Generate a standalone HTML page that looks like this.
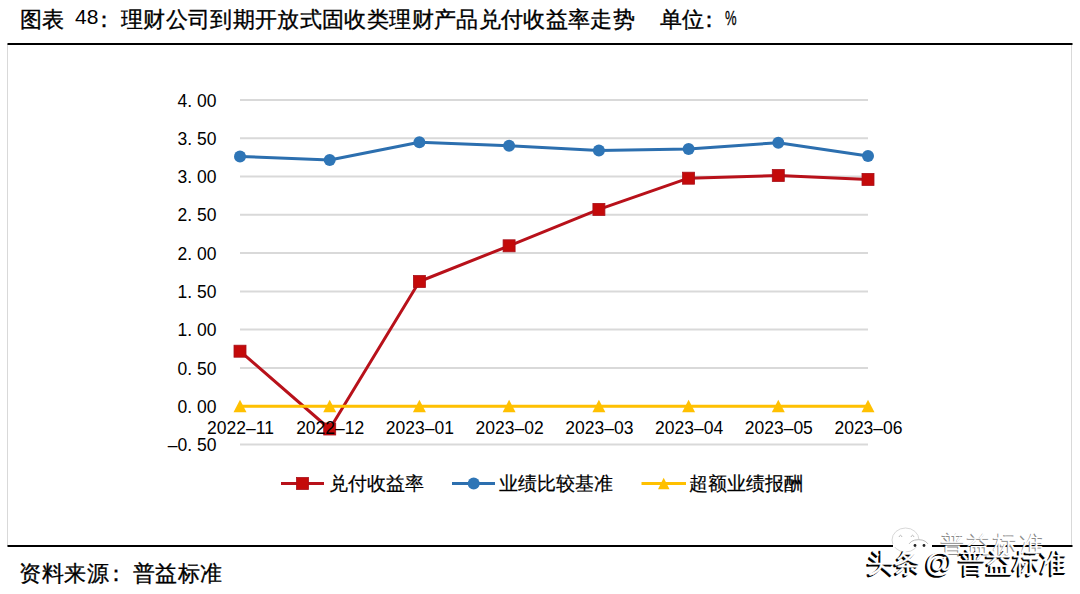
<!DOCTYPE html>
<html><head><meta charset="utf-8">
<style>
html,body{margin:0;padding:0;background:#fff;}
body{width:1080px;height:594px;position:relative;overflow:hidden;font-family:"Liberation Sans",sans-serif;color:#000;}
.t{position:absolute;white-space:nowrap;line-height:1;}
.ax{font-family:"Liberation Sans",sans-serif;font-size:17.5px;fill:#000;}
svg{position:absolute;left:0;top:0;}
.so{font-size:22px;letter-spacing:0.5px;top:562.5px;-webkit-text-stroke:0.3px #000;}
.lg{font-size:19px;top:474px;-webkit-text-stroke:0.2px #000;}
.wm{color:#fff;text-shadow:-2px 2px 0 #000,-1px 1px 0 #000,-2px 1px 0 #000;-webkit-text-stroke:0.3px #fff;}
.ti{font-size:22px;letter-spacing:0.35px;top:9px;-webkit-text-stroke:0.35px #000;}
</style></head><body>
<svg width="1080" height="594" viewBox="0 0 1080 594">
<rect x="7" y="44" width="1" height="502" fill="#D9D9D9"/>
<rect x="1071" y="44" width="1" height="502" fill="#D9D9D9"/>
<rect x="7.5" y="43" width="1065" height="2" fill="#000"/>
<rect x="7.5" y="545" width="1065" height="2" fill="#000"/>
<line x1="240" y1="100.0" x2="868" y2="100.0" stroke="#D9D9D9" stroke-width="2"/>
<line x1="240" y1="138.3" x2="868" y2="138.3" stroke="#D9D9D9" stroke-width="2"/>
<line x1="240" y1="176.5" x2="868" y2="176.5" stroke="#D9D9D9" stroke-width="2"/>
<line x1="240" y1="214.8" x2="868" y2="214.8" stroke="#D9D9D9" stroke-width="2"/>
<line x1="240" y1="253.1" x2="868" y2="253.1" stroke="#D9D9D9" stroke-width="2"/>
<line x1="240" y1="291.4" x2="868" y2="291.4" stroke="#D9D9D9" stroke-width="2"/>
<line x1="240" y1="329.6" x2="868" y2="329.6" stroke="#D9D9D9" stroke-width="2"/>
<line x1="240" y1="367.9" x2="868" y2="367.9" stroke="#D9D9D9" stroke-width="2"/>
<line x1="240" y1="406.2" x2="868" y2="406.2" stroke="#D9D9D9" stroke-width="2"/>
<line x1="240" y1="444.4" x2="868" y2="444.4" stroke="#D9D9D9" stroke-width="2"/>
<text x="216.5" y="106.6" text-anchor="end" class="ax">4. 00</text>
<text x="216.5" y="144.9" text-anchor="end" class="ax">3. 50</text>
<text x="216.5" y="183.1" text-anchor="end" class="ax">3. 00</text>
<text x="216.5" y="221.4" text-anchor="end" class="ax">2. 50</text>
<text x="216.5" y="259.7" text-anchor="end" class="ax">2. 00</text>
<text x="216.5" y="298.0" text-anchor="end" class="ax">1. 50</text>
<text x="216.5" y="336.2" text-anchor="end" class="ax">1. 00</text>
<text x="216.5" y="374.5" text-anchor="end" class="ax">0. 50</text>
<text x="216.5" y="412.8" text-anchor="end" class="ax">0. 00</text>
<text x="216.5" y="451.0" text-anchor="end" class="ax">&#8211;0. 50</text>
<polyline points="240.0,351.2 329.7,429.0 419.4,281.5 509.1,245.8 598.9,209.4 688.6,178.2 778.3,175.5 868.0,179.4" fill="none" stroke="#B8111A" stroke-width="3" stroke-linejoin="round"/>
<rect x="234.0" y="345.2" width="12" height="12" fill="#C40A0A" stroke="#A8101A" stroke-width="0.8"/>
<rect x="323.7" y="423.0" width="12" height="12" fill="#C40A0A" stroke="#A8101A" stroke-width="0.8"/>
<rect x="413.4" y="275.5" width="12" height="12" fill="#C40A0A" stroke="#A8101A" stroke-width="0.8"/>
<rect x="503.1" y="239.8" width="12" height="12" fill="#C40A0A" stroke="#A8101A" stroke-width="0.8"/>
<rect x="592.9" y="203.4" width="12" height="12" fill="#C40A0A" stroke="#A8101A" stroke-width="0.8"/>
<rect x="682.6" y="172.2" width="12" height="12" fill="#C40A0A" stroke="#A8101A" stroke-width="0.8"/>
<rect x="772.3" y="169.5" width="12" height="12" fill="#C40A0A" stroke="#A8101A" stroke-width="0.8"/>
<rect x="862.0" y="173.4" width="12" height="12" fill="#C40A0A" stroke="#A8101A" stroke-width="0.8"/>
<polyline points="240.0,156.4 329.7,160.0 419.4,142.3 509.1,145.8 598.9,150.6 688.6,149.1 778.3,142.7 868.0,156.1" fill="none" stroke="#2C6FAF" stroke-width="3" stroke-linejoin="round"/>
<circle cx="240.0" cy="156.4" r="6" fill="#2E75B6"/>
<circle cx="329.7" cy="160.0" r="6" fill="#2E75B6"/>
<circle cx="419.4" cy="142.3" r="6" fill="#2E75B6"/>
<circle cx="509.1" cy="145.8" r="6" fill="#2E75B6"/>
<circle cx="598.9" cy="150.6" r="6" fill="#2E75B6"/>
<circle cx="688.6" cy="149.1" r="6" fill="#2E75B6"/>
<circle cx="778.3" cy="142.7" r="6" fill="#2E75B6"/>
<circle cx="868.0" cy="156.1" r="6" fill="#2E75B6"/>
<line x1="240" y1="406.2" x2="868" y2="406.2" stroke="#FFC000" stroke-width="3"/>
<path d="M240.0 399.7 L246.5 412.2 L233.5 412.2 Z" fill="#FFC000"/>
<path d="M329.7 399.7 L336.2 412.2 L323.2 412.2 Z" fill="#FFC000"/>
<path d="M419.4 399.7 L425.9 412.2 L412.9 412.2 Z" fill="#FFC000"/>
<path d="M509.1 399.7 L515.6 412.2 L502.6 412.2 Z" fill="#FFC000"/>
<path d="M598.9 399.7 L605.4 412.2 L592.4 412.2 Z" fill="#FFC000"/>
<path d="M688.6 399.7 L695.1 412.2 L682.1 412.2 Z" fill="#FFC000"/>
<path d="M778.3 399.7 L784.8 412.2 L771.8 412.2 Z" fill="#FFC000"/>
<path d="M868.0 399.7 L874.5 412.2 L861.5 412.2 Z" fill="#FFC000"/>
<text x="240.5" y="434.3" text-anchor="middle" class="ax">2022&#8211;11</text>
<text x="330.2" y="434.3" text-anchor="middle" class="ax">2022&#8211;12</text>
<text x="419.9" y="434.3" text-anchor="middle" class="ax">2023&#8211;01</text>
<text x="509.6" y="434.3" text-anchor="middle" class="ax">2023&#8211;02</text>
<text x="599.4" y="434.3" text-anchor="middle" class="ax">2023&#8211;03</text>
<text x="689.1" y="434.3" text-anchor="middle" class="ax">2023&#8211;04</text>
<text x="778.8" y="434.3" text-anchor="middle" class="ax">2023&#8211;05</text>
<text x="868.5" y="434.3" text-anchor="middle" class="ax">2023&#8211;06</text>
<line x1="281" y1="483.5" x2="324" y2="483.5" stroke="#B8111A" stroke-width="3"/>
<rect x="296.5" y="477.5" width="12" height="12" fill="#C40A0A" stroke="#A8101A" stroke-width="0.8"/>
<line x1="452" y1="483.5" x2="495" y2="483.5" stroke="#2C6FAF" stroke-width="3"/>
<circle cx="473.7" cy="483.5" r="6" fill="#2E75B6"/>
<line x1="641.5" y1="483.5" x2="686" y2="483.5" stroke="#FFC000" stroke-width="3"/>
<path d="M663.7 477.8 L669.5 489.3 L658 489.3 Z" fill="#FFC000"/>
</svg>
<div class="t ti" style="left:19.5px;">图表</div>
<div class="t" style="left:75px;top:6px;font-size:21px;">48</div>
<div class="t ti" style="left:93px;">：</div>
<div class="t ti" style="left:121px;">理财公司到期开放式固收类理财产品兑付收益率走势</div>
<div class="t ti" style="left:660px;">单位</div>
<div class="t ti" style="left:698px;">：</div>
<div class="t" style="left:724.5px;top:6.5px;font-size:21px;transform:scaleX(0.62);-webkit-text-stroke:0.3px #000;transform-origin:0 0;">%</div>
<div class="t lg" style="left:328.5px;">兑付收益率</div>
<div class="t lg" style="left:498.5px;">业绩比较基准</div>
<div class="t lg" style="left:688.5px;">超额业绩报酬</div>
<div class="t so" style="left:19px;">资料来源</div><div class="t so" style="left:105px;">：</div><div class="t so" style="left:132.5px;">普益标准</div>
<svg width="1080" height="594" viewBox="0 0 1080 594" style="position:absolute;left:0;top:0">
<ellipse cx="905.5" cy="540" rx="13.5" ry="12" fill="#fff" stroke="#d8d8d8" stroke-width="1"/>
<path d="M899 537 q1.5 -3.5 3 0 M911 537 q1.5 -3.5 3 0" fill="none" stroke="#bbb" stroke-width="1"/>
<path d="M908 546 a11 9 0 0 1 21 0" fill="#fff" stroke="#bbb" stroke-width="1"/>
<rect x="893" y="544" width="39" height="3" fill="#fff"/>
<circle cx="915" cy="545.5" r="1.4" fill="#222"/><circle cx="924" cy="545.5" r="1.4" fill="#222"/>
</svg>
<div class="t" style="left:941px;top:532px;font-size:24px;letter-spacing:2.2px;color:#fff;text-shadow:-1px 1px 0 #8a8a8a;">普益标准</div>
<div class="t wm" style="left:867px;top:549.5px;font-size:27px;">头条</div><div class="t wm" style="left:925px;top:549px;font-size:28px;">@</div><div class="t wm" style="left:959px;top:549.5px;font-size:27px;">普益标准</div>
</body></html>
